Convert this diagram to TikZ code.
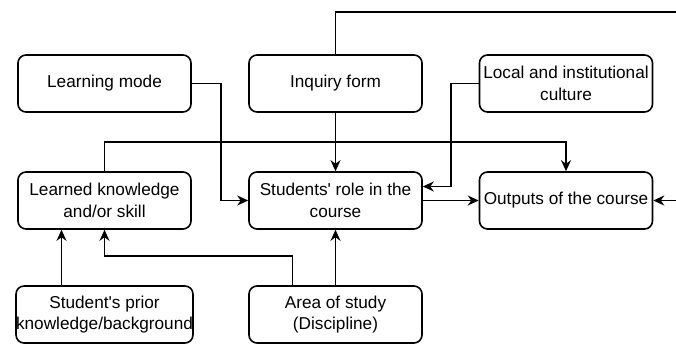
\documentclass[tikz,border=0pt]{standalone}
\usepackage{fontspec}
\setmainfont{Liberation Sans}
\usetikzlibrary{arrows.meta}

\begin{document}
\begin{tikzpicture}[x=1pt,y=-1pt,line width=1.6pt,
  box/.style={draw,rounded corners=8pt,minimum width=173pt,minimum height=57pt,
    inner sep=0pt,align=center,font=\fontsize{17.2}{21.5}\selectfont},
  arr/.style={-{Stealth[length=11pt,width=10pt,inset=3.5pt]}}]
\useasboundingbox (0,0) rectangle (676,343);
\node[box] (mode) at (104.5,83.5) {Learning mode};
\node[box] (inquiry) at (335.5,83.5) {Inquiry form};
\node[box] (culture) at (566,83.5) {Local and institutional\\culture};
\node[box] (learned) at (104.5,200.5) {Learned knowledge\\and/or skill};
\node[box] (role) at (335.5,200.5) {Students\textquotesingle{} role in the\\course};
\node[box] (outputs) at (566,200.5) {Outputs of the course};
\node[box] (prior) at (104.5,314.5) {Student\textquotesingle{}s prior\\knowledge/background};
\node[box] (area) at (335.5,314.5) {Area of study\\(Discipline)};
\coordinate (rt) at (700,12);
\draw[arr] (inquiry.north) |- (rt) |- (outputs.east);
\draw[arr] (mode.east) -- ++(29,0) |- (role.west);
\draw[arr] (inquiry) -- (role);
\draw[arr] (culture.west) -- ++(-28,0) |- ([yshift=14pt]role.east);
\draw[arr] (role) -- (outputs);
\draw[arr] (learned.north) -- ++(0,-29) -| (outputs.north);
\draw[arr] ([xshift=-43pt]prior.north) -- ([xshift=-43pt]learned.south);
\draw[arr] ([xshift=-43pt]area.north) -- ++(0,-29) -| (learned.south);
\draw[arr] (area) -- (role);
\end{tikzpicture}
\end{document}
